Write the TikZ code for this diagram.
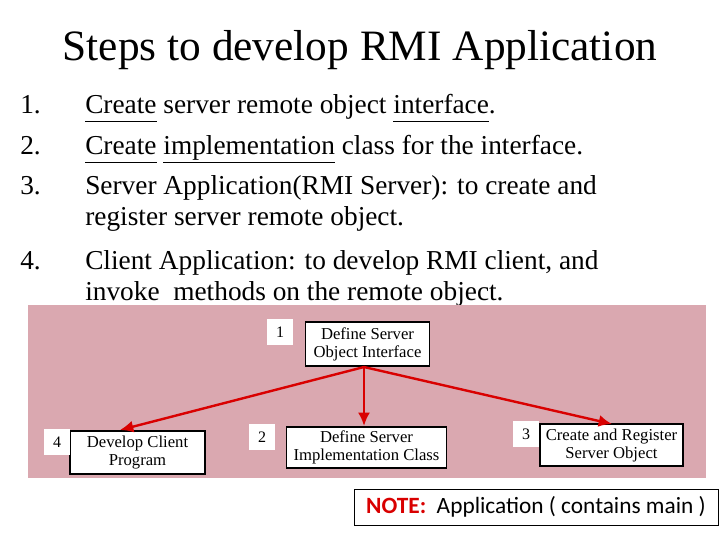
\documentclass[tikz,border=0pt]{standalone}
\usepackage{fontspec}
\usetikzlibrary{arrows.meta}
\setmainfont{Liberation Serif}
\newfontfamily\notefont{Carlito}
\newcommand{\ul}[1]{\underline{\smash{#1}\vphantom{g}}}
\begin{document}
\begin{tikzpicture}[x=0.75pt,y=-0.75pt,
  box/.style={draw=black,line width=1.3pt,fill=white,inner sep=1pt,align=center,font=\fontsize{12.5}{13.5}\selectfont},
  num/.style={fill=white,inner sep=0pt,minimum width=19pt,minimum height=19pt,font=\fontsize{12}{13}\selectfont},
  arr/.style={draw=red!85!black,line width=1.8pt,-{Latex[length=10pt,width=9pt]}},
  item/.style={anchor=base west,font=\fontsize{20.5}{22}\selectfont,inner sep=0pt}]
\useasboundingbox (0,0) rectangle (720,540);
\node[font=\fontsize{32.5}{34}\selectfont,anchor=base] (title) at (360,60) {Steps to develop RMI Application};
\node[item] (n1) at (20,113) {1.};
\node[item] (t1) at (85,113) {\ul{Create} server remote object \ul{interface}.};
\node[item] (n2) at (20,154) {2.};
\node[item] (t2) at (85,154) {\ul{Create} \ul{implementation} class for the interface.};
\node[item] (n3) at (20,194) {3.};
\node[item] (t3) at (85,194) {Server Application(RMI Server): to create and};
\node[item] (t3b) at (85,225) {register server remote object.};
\node[item] (n4) at (20,269) {4.};
\node[item] (t4) at (85,269) {Client Application: to develop RMI client, and};
\node[item] (t4b) at (85,300) {invoke\ \ methods on the remote object.};
\fill[fill={rgb,255:red,218;green,168;blue,176}] (28,305) rectangle (706,478);
\node[box,minimum width=93pt,minimum height=33pt] (b1) at (367.5,344) {Define Server\\Object Interface};
\node[box,minimum width=120pt,minimum height=31pt] (b2) at (366.5,447.5) {Define Server\\Implementation Class};
\node[box,minimum width=107pt,minimum height=31pt] (b3) at (611.5,445) {Create and Register\\Server Object};
\node[box,minimum width=101pt,minimum height=32pt] (b4) at (137.5,452.5) {Develop Client\\Program};
\node[num] (l1) at (280,332) {1};
\node[num] (l2) at (262,437) {2};
\node[num] (l3) at (526,434) {3};
\node[num] (l4) at (57,442) {4};
\coordinate (src) at (364,367);
\draw[arr] (src) -- (120,430);
\draw[arr] (src) -- (b2.north -| src);
\draw[arr] (src) -- (612,424);
\node[draw=black,line width=0.6pt,minimum width=273pt,minimum height=27pt,font=\notefont\fontsize{17.5}{18}\selectfont] (note) at (536,507) {\textcolor{red!85!black}{\textbf{NOTE:}}\ \ Application ( contains main )};
\end{tikzpicture}
\end{document}
